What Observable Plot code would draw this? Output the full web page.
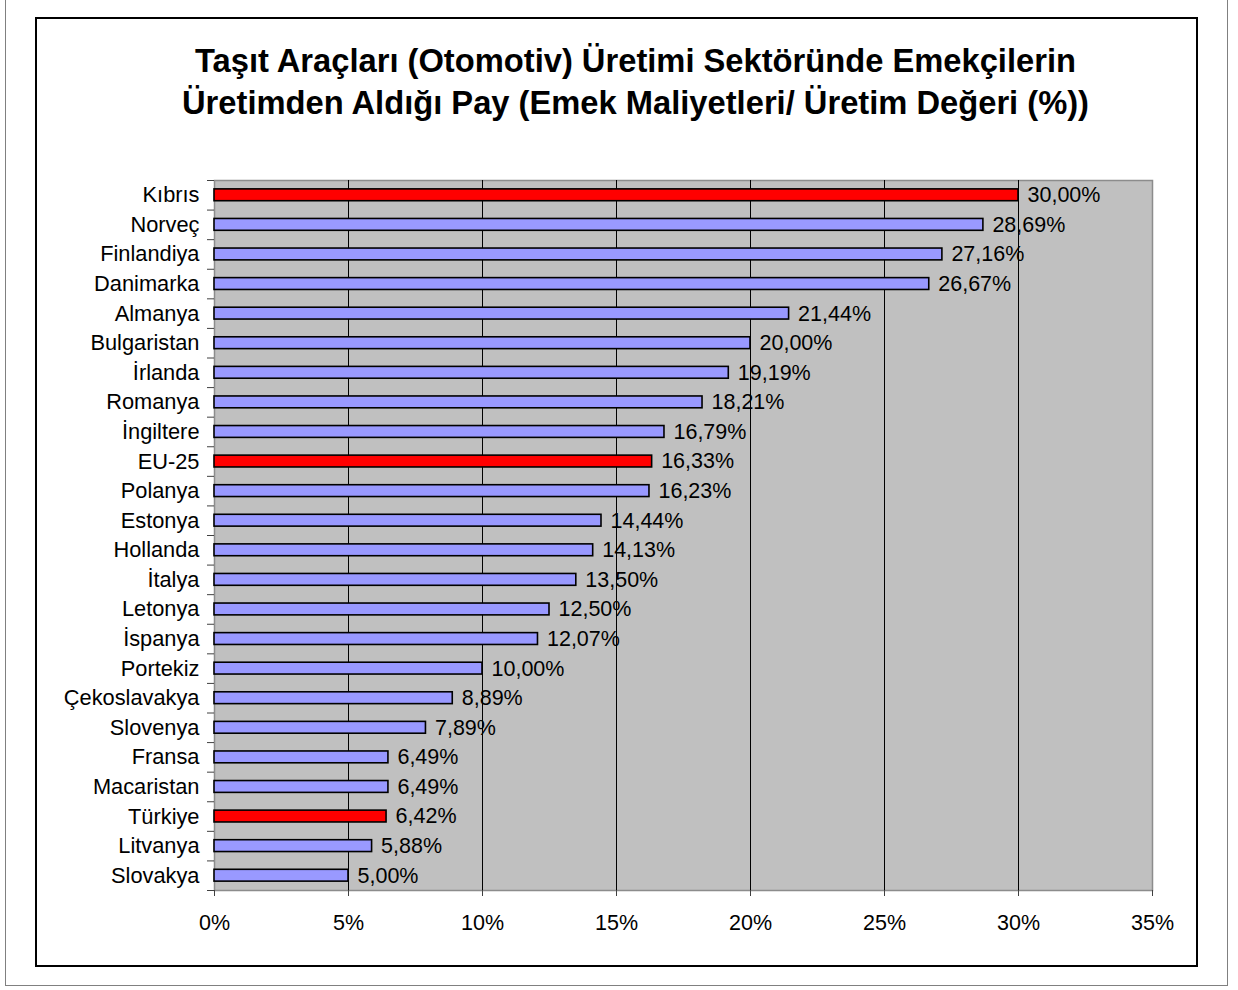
<!DOCTYPE html>
<html>
<head>
<meta charset="utf-8">
<script src="https://cdn.jsdelivr.net/npm/d3@7"></script>
<script src="https://cdn.jsdelivr.net/npm/@observablehq/plot@0.6"></script>
<style>
  html, body { margin: 0; padding: 0; background: #fff; }
  #page { position: relative; width: 1238px; height: 990px; overflow: hidden; font-family: "Liberation Sans", Arial, sans-serif; }
  #edge { position: absolute; left: 5px; top: -4px; width: 1223px; height: 990px; border: 1px solid #808080; box-sizing: border-box; }
  #box { position: absolute; left: 35px; top: 17px; width: 1163px; height: 950px; border: 2px solid #000; box-sizing: border-box; }
  #title { position: absolute; left: 0; top: 40px; width: 1271px; text-align: center; font-weight: bold; font-size: 32.7px; line-height: 42px; color: #000; }
  #chart { position: absolute; left: 0; top: 0; }
</style>
</head>
<body>
<div id="page">
  <div id="edge"></div>
  <div id="box"></div>
  <div id="chart"></div>
  <div id="title">Taşıt Araçları (Otomotiv) Üretimi Sektöründe Emekçilerin<br>Üretimden Aldığı Pay (Emek Maliyetleri/ Üretim Değeri (%))</div>
</div>
<script>
// Share of production value going to labour costs, motor vehicle manufacturing
const countries = ["Kıbrıs", "Norveç", "Finlandiya", "Danimarka", "Almanya", "Bulgaristan", "İrlanda", "Romanya", "İngiltere", "EU-25", "Polanya", "Estonya", "Hollanda", "İtalya", "Letonya", "İspanya", "Portekiz", "Çekoslavakya", "Slovenya", "Fransa", "Macaristan", "Türkiye", "Litvanya", "Slovakya"];
const shares = [30.00, 28.69, 27.16, 26.67, 21.44, 20.00, 19.19, 18.21, 16.79, 16.33, 16.23, 14.44, 14.13, 13.50, 12.50, 12.07, 10.00, 8.89, 7.89, 6.49, 6.49, 6.42, 5.88, 5.00];
const highlighted = ["Kıbrıs", "EU-25", "Türkiye"];
const xTicks = [0, 5, 10, 15, 20, 25, 30, 35];

const rows = countries.map((name, i) => ({ name, i, value: shares[i], hl: highlighted.includes(name) }));
const fmt = v => v.toFixed(2).replace(".", ",") + "%";
const rowIndex = d3.range(countries.length);
const rowEdges = d3.range(countries.length + 1).map(k => k - 0.5);

const chart = Plot.plot({
  width: 1238,
  height: 990,
  marginLeft: 214,
  marginRight: 86,
  marginTop: 180,
  marginBottom: 100,
  style: { background: "transparent", fontFamily: "'Liberation Sans', Arial, sans-serif", fontSize: "21.5px", color: "#000" },
  x: { domain: [0, 35] },
  y: { domain: [-0.5, countries.length - 0.5], reverse: true },
  marks: [
    Plot.frame({ fill: "#c0c0c0", stroke: "#8c8c8c", strokeWidth: 1.5 }),
    Plot.ruleX([5, 10, 15, 20, 25, 30], { stroke: "#000", strokeWidth: 1 }),
    Plot.rectX(rows, {
      x1: 0,
      x2: "value",
      y1: d => d.i - 0.2,
      y2: d => d.i + 0.2,
      fill: d => d.hl ? "#ff0000" : "#9999ff",
      stroke: "#000",
      strokeWidth: 1.6
    }),
    Plot.text(rows, {
      x: "value",
      y: "i",
      text: d => fmt(d.value),
      textAnchor: "start",
      dx: 9,
      fontSize: 21.5,
      fill: "#000"
    }),
    Plot.axisX({ ticks: xTicks, tickFormat: d => d + "%", tickSize: 6, tickPadding: 18, fontSize: 21.5, stroke: "#404040", label: null }),
    Plot.axisY({ ticks: rowIndex, tickFormat: i => countries[i], tickSize: 0, tickPadding: 15, fontSize: 21.8, label: null }),
    Plot.axisY({ ticks: rowEdges, tickFormat: () => "", tickSize: 7, stroke: "#404040", label: null })
  ]
});
document.getElementById("chart").appendChild(chart);
</script>
</body>
</html>
